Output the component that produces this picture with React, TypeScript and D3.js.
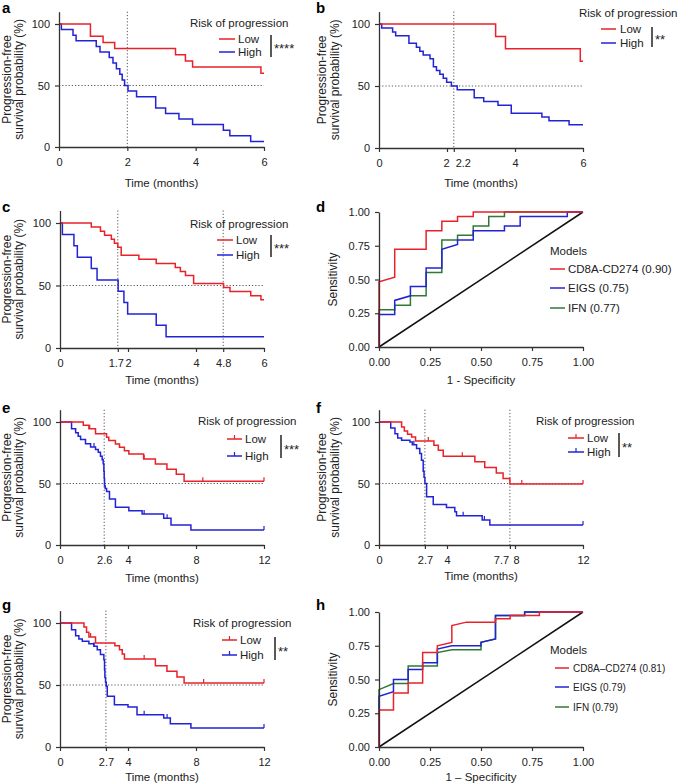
import * as d3 from "d3";
import React, { useEffect, useRef } from "react";

const RED = "#e8222a";
const BLUE = "#2323d6";
const GREEN = "#2e7a34";
const AXIS = "#333";
const GUIDE = "#555";
const FONT = "'Liberation Sans', Arial, Helvetica, sans-serif";

// ---- a: survival (%) after each event time (months)
const aLowTimes = [0.92, 1.29, 1.63, 3.41, 3.7, 3.91, 5.91];
const aLowSurv = [90, 85, 80, 75, 70, 65, 60];
const aHighTimes = [0.07, 0.41, 0.5, 1.09, 1.2, 1.47, 1.58, 1.68, 1.78, 1.85, 1.92, 2.02, 2.27, 2.83, 3.12, 3.51, 3.91, 4.81, 5.0, 5.61];
const aHighSurv = [95.5, 90.9, 86.4, 81.8, 77.3, 72.7, 68.2, 63.6, 59.1, 54.5, 50, 45.5, 40.9, 31.8, 27.3, 22.7, 18.2, 13.6, 9.1, 4.5];

// ---- b
const bLowTimes = [3.43, 3.72, 5.92];
const bLowSurv = [90, 80, 70];
const bHighTimes = [0.08, 0.4, 0.49, 0.88, 1.1, 1.2, 1.3, 1.5, 1.6, 1.69, 1.79, 1.89, 1.99, 2.13, 2.3, 2.8, 3.08, 3.5, 3.89, 4.79, 5.0, 5.59];
const bHighSurv = [96.8, 93.5, 90.6, 84.4, 81.3, 78.1, 75, 71.9, 65.6, 62.5, 59.4, 56.3, 53.1, 50, 46.9, 40.6, 37.5, 34.4, 28.1, 25, 21.9, 18.8];

// ---- c
const cLowTimes = [0.92, 1.19, 1.31, 1.51, 1.6, 1.7, 1.8, 2.32, 2.83, 3.39, 3.54, 3.69, 3.93, 4.81, 5.0, 5.61, 5.91];
const cLowSurv = [96.8, 93.5, 90.3, 87.1, 83.9, 80.6, 74.2, 71, 67.7, 64.5, 61.3, 58.1, 51.6, 48.4, 45.2, 41.9, 38.7];
const cHighTimes = [0.07, 0.41, 0.51, 0.92, 1.09, 1.71, 1.88, 1.99, 2.83, 3.12];
const cHighSurv = [90.9, 81.8, 72.7, 63.6, 54.5, 45.5, 36.4, 27.3, 18.2, 9.1];

// ---- e
const eLowTimes = [1.37, 1.7, 2.09, 2.74, 2.87, 3.26, 3.5, 3.79, 4.05, 4.92, 5.61, 6.29, 6.84, 7.3];
const eLowSurv = [97.3, 94.5, 90.4, 87.7, 84.9, 82.2, 79.5, 76.7, 74, 69.9, 65.8, 61.6, 57.5, 51.8];
const eLowCensor = [1.75, 4.95, 8.4, 12];
const eHighTimes = [0.68, 0.92, 1.07, 1.21, 1.5, 1.8, 2.09, 2.25, 2.38, 2.48, 2.54, 2.58, 2.6, 2.62, 2.66, 2.74, 2.91, 3.26, 4.05, 4.83, 6.1, 6.53, 7.7];
const eHighSurv = [94.6, 91.2, 88.4, 85.7, 82.3, 79.6, 77.6, 75.5, 72.1, 69.4, 66, 60, 54, 48, 46, 43.5, 37.5, 30.6, 27.9, 25.2, 21.8, 16.3, 12.2];
const eHighCensor = [2.0, 4.95, 6.3, 12];

// ---- f
const fLowTimes = [1.33, 1.49, 1.68, 1.92, 2.15, 3.23, 3.49, 3.78, 5.64, 6.22, 6.9, 7.3, 7.7];
const fLowSurv = [95.9, 92.7, 90, 87.8, 84.6, 81.1, 77, 72.2, 67.6, 63, 58.6, 54.1, 49.5];
const fLowCensor = [2.9, 4.9, 8.4, 12];
const fHighTimes = [0.69, 0.94, 1.1, 1.33, 1.82, 1.96, 2.21, 2.4, 2.5, 2.6, 2.65, 2.7, 2.8, 3.19, 3.97, 4.46, 4.56, 6.07, 6.52];
const fHighSurv = [95.1, 90.5, 87, 85.1, 83.8, 81.6, 78.4, 74.3, 68.9, 60, 55, 50, 39.2, 33, 30.5, 27, 23.8, 20.3, 16.2];
const fHighCensor = [2.05, 4.95, 6.2, 12];

// ---- g
const gLowTimes = [1.41, 1.56, 1.7, 2.09, 3.23, 3.5, 3.66, 3.79, 5.61, 6.29, 6.88, 7.3];
const gLowSurv = [96.8, 92.5, 88.7, 83.9, 81.7, 78.5, 75, 71, 65.6, 61, 56.5, 51.6];
const gLowCensor = [1.8, 4.95, 8.45, 12];
const gHighTimes = [0.68, 0.92, 1.11, 1.31, 1.7, 1.99, 2.19, 2.38, 2.58, 2.62, 2.64, 2.68, 2.72, 2.78, 3.2, 4.0, 4.53, 6.1, 6.49, 7.7];
const gHighSurv = [94.6, 89.8, 87.1, 85.2, 83.3, 81.2, 78.5, 74.5, 70.4, 62, 56, 52, 48.9, 40.9, 34.1, 32.3, 26.1, 23.4, 18.8, 15.3];
const gHighCensor = [2.0, 4.95, 6.3, 12];

// ---- d: ROC (false positive rate, true positive rate)
const dRedFpr = [0, 0, 0.077, 0.077, 0.231, 0.231, 0.308, 0.308, 0.385, 0.385, 0.462, 0.462, 1];
const dRedTpr = [0, 0.483, 0.517, 0.724, 0.724, 0.862, 0.862, 0.931, 0.931, 0.966, 0.966, 1, 1];
const dBlueFpr = [0, 0, 0.077, 0.077, 0.154, 0.154, 0.231, 0.231, 0.308, 0.308, 0.385, 0.385, 0.462, 0.462, 0.615, 0.615, 0.692, 0.692, 0.923, 0.923, 1];
const dBlueTpr = [0, 0.241, 0.241, 0.345, 0.379, 0.448, 0.448, 0.586, 0.586, 0.724, 0.759, 0.793, 0.793, 0.862, 0.862, 0.897, 0.897, 0.966, 0.966, 1, 1];
const dGreenFpr = [0, 0, 0.077, 0.077, 0.154, 0.154, 0.231, 0.231, 0.308, 0.308, 0.385, 0.385, 0.462, 0.462, 0.538, 0.538, 0.615, 0.615, 1];
const dGreenTpr = [0, 0.276, 0.276, 0.31, 0.31, 0.379, 0.379, 0.552, 0.552, 0.793, 0.793, 0.828, 0.828, 0.897, 0.897, 0.966, 0.966, 1, 1];
const dModels = ["CD8A-CD274 (0.90)", "EIGS (0.75)", "IFN (0.77)"];

// ---- h
const hRedFpr = [0, 0, 0.071, 0.071, 0.143, 0.143, 0.214, 0.214, 0.286, 0.286, 0.357, 0.357, 0.429, 0.571, 0.571, 0.643, 0.643, 0.786, 0.786, 1];
const hRedTpr = [0, 0.275, 0.275, 0.4, 0.4, 0.475, 0.475, 0.7, 0.7, 0.75, 0.775, 0.9, 0.925, 0.925, 0.95, 0.95, 0.975, 0.975, 1, 1];
const hBlueFpr = [0, 0, 0.071, 0.071, 0.143, 0.143, 0.214, 0.214, 0.286, 0.286, 0.357, 0.5, 0.5, 0.571, 0.571, 0.714, 0.714, 1];
const hBlueTpr = [0, 0.375, 0.41, 0.5, 0.5, 0.575, 0.575, 0.625, 0.625, 0.725, 0.75, 0.75, 0.775, 0.8, 0.975, 0.975, 1, 1];
const hGreenFpr = [0, 0, 0.071, 0.143, 0.143, 0.286, 0.286, 0.357, 0.5, 0.5, 0.571, 0.571, 0.714, 0.714, 1];
const hGreenTpr = [0, 0.425, 0.47, 0.47, 0.6, 0.6, 0.7, 0.72, 0.72, 0.775, 0.8, 0.975, 0.975, 1, 1];
const hModels = ["CD8A\u2013CD274 (0.81)", "EIGS (0.79)", "IFN (0.79)"];

const riskLabels = ["Low", "High"];

type KMSeries = { times: number[]; surv: number[]; censor: number[] };

const kmPanels = [
  {
    letter: "a", lx: 2, ly: 13, x0: 59, x1: 264, y100: 24, y0: 147, tmax: 6,
    xTicks: [0, 2, 4, 6], shift: {}, medians: [2], stars: "****", xlabY: 187, ylabX: [11, 23],
    low: { times: aLowTimes, surv: aLowSurv, censor: [] }, high: { times: aHighTimes, surv: aHighSurv, censor: [] },
    leg: { tx: 190, ty: 27, l0: 219, l1: 235, lowY: 39, highY: 52, textX: 238, barX: 271, b0: 35, b1: 57 },
  },
  {
    letter: "b", lx: 316, ly: 13, x0: 379, x1: 583, y100: 24, y0: 148, tmax: 6,
    xTicks: [0, 2, 2.2, 4, 6], shift: { 2: -1, 2.2: 9 }, medians: [2.2], stars: "**", xlabY: 187, ylabX: [326, 339],
    low: { times: bLowTimes, surv: bLowSurv, censor: [] }, high: { times: bHighTimes, surv: bHighSurv, censor: [] },
    leg: { tx: 579, ty: 17, l0: 601, l1: 616, lowY: 29, highY: 43, textX: 620, barX: 652, b0: 27, b1: 47 },
  },
  {
    letter: "c", lx: 2, ly: 212, x0: 60, x1: 264, y100: 223, y0: 348, tmax: 6,
    xTicks: [0, 1.7, 2, 4, 4.8, 6], shift: { 1.7: -2 }, medians: [1.7, 4.8], stars: "***", xlabY: 384, ylabX: [11, 23],
    low: { times: cLowTimes, surv: cLowSurv, censor: [] }, high: { times: cHighTimes, surv: cHighSurv, censor: [] },
    leg: { tx: 190, ty: 228, l0: 217, l1: 233, lowY: 240, highY: 255, textX: 236, barX: 271, b0: 235, b1: 257 },
  },
  {
    letter: "e", lx: 2, ly: 413, x0: 60, x1: 264, y100: 422, y0: 545, tmax: 12,
    xTicks: [0, 2.6, 4, 8, 12], shift: {}, medians: [2.6], stars: "***", xlabY: 582, ylabX: [11, 23],
    low: { times: eLowTimes, surv: eLowSurv, censor: eLowCensor }, high: { times: eHighTimes, surv: eHighSurv, censor: eHighCensor },
    leg: { tx: 198, ty: 425, l0: 227, l1: 242, lowY: 439, highY: 456, textX: 245, barX: 281, b0: 435, b1: 458 },
  },
  {
    letter: "f", lx: 316, ly: 413, x0: 379, x1: 583, y100: 422, y0: 545, tmax: 12,
    xTicks: [0, 2.7, 4, 7.7, 8, 12], shift: { 7.7: -9, 8: 1 }, medians: [2.7, 7.7], stars: "**", xlabY: 580, ylabX: [326, 339],
    low: { times: fLowTimes, surv: fLowSurv, censor: fLowCensor }, high: { times: fHighTimes, surv: fHighSurv, censor: fHighCensor },
    leg: { tx: 536, ty: 425, l0: 568, l1: 584, lowY: 438, highY: 452, textX: 587, barX: 619, b0: 433, b1: 457 },
  },
  {
    letter: "g", lx: 2, ly: 610, x0: 60, x1: 264, y100: 623, y0: 747, tmax: 12,
    xTicks: [0, 2.7, 4, 8, 12], shift: {}, medians: [2.7], stars: "**", xlabY: 781, ylabX: [11, 23],
    low: { times: gLowTimes, surv: gLowSurv, censor: gLowCensor }, high: { times: gHighTimes, surv: gHighSurv, censor: gHighCensor },
    leg: { tx: 193, ty: 627, l0: 222, l1: 237, lowY: 640, highY: 655, textX: 240, barX: 275, b0: 637, b1: 660 },
  },
];

const rocPanels = [
  {
    letter: "d", lx: 316, ly: 212, x0: 379, x1: 583, y1: 212, y0: 347, xlabel: "1 - Specificity", xlabY: 384,
    series: [
      { fpr: dGreenFpr, tpr: dGreenTpr, color: GREEN },
      { fpr: dBlueFpr, tpr: dBlueTpr, color: BLUE },
      { fpr: dRedFpr, tpr: dRedTpr, color: RED },
    ],
    models: dModels, leg: { tx: 550, ty: 255, l0: 550, l1: 565, rows: [269, 288, 308], textX: 568, size: 11.5 },
  },
  {
    letter: "h", lx: 316, ly: 610, x0: 379, x1: 583, y1: 612, y0: 747, xlabel: "1 \u2013 Specificity", xlabY: 781,
    series: [
      { fpr: hGreenFpr, tpr: hGreenTpr, color: GREEN },
      { fpr: hBlueFpr, tpr: hBlueTpr, color: BLUE },
      { fpr: hRedFpr, tpr: hRedTpr, color: RED },
    ],
    models: hModels, leg: { tx: 550, ty: 654, l0: 555, l1: 569, rows: [668, 687, 707], textX: 573, size: 10 },
  },
];

const survAt = (s: KMSeries, t: number) => {
  const i = d3.bisectRight(s.times, t);
  return i === 0 ? 100 : s.surv[i - 1];
};

const styleAxis = (ax: any) => {
  ax.attr("font-family", FONT).attr("font-size", 11);
  ax.select(".domain").attr("stroke", AXIS).attr("stroke-width", 1.3);
  ax.selectAll(".tick line").attr("stroke", AXIS).attr("stroke-width", 1.2);
  ax.selectAll(".tick text").attr("fill", "#222");
};

const text = (g: any, x: number, y: number, s: string, size = 11.5) =>
  g.append("text").attr("x", x).attr("y", y).attr("font-size", size).attr("font-family", FONT).attr("fill", "#222").text(s);

function drawKM(svg: any, p: any) {
  const g = svg.append("g");
  const x = d3.scaleLinear().domain([0, p.tmax]).range([p.x0, p.x1]);
  const y = d3.scaleLinear().domain([0, 100]).range([p.y0, p.y100]);
  const yTop = y(110);

  const dotted = (sel: any) => sel.attr("stroke", GUIDE).attr("stroke-width", 1).attr("stroke-dasharray", "1.2,2");
  g.append("line").attr("x1", x(0)).attr("x2", x(p.tmax)).attr("y1", y(50)).attr("y2", y(50)).call(dotted);
  p.medians.forEach((m: number) =>
    g.append("line").attr("x1", x(m)).attr("x2", x(m)).attr("y1", yTop).attr("y2", y(0)).call(dotted)
  );

  const line = d3
    .line<[number, number]>()
    .x((d) => x(d[0]))
    .y((d) => y(d[1]))
    .curve(d3.curveStepAfter);

  const hasCensor = p.low.censor.length > 0;
  [
    [p.high, BLUE],
    [p.low, RED],
  ].forEach(([s, col]: any) => {
    const pts: [number, number][] = [[0, 100], ...s.times.map((t: number, i: number) => [t, s.surv[i]] as [number, number])];
    pts.push([p.tmax, s.surv[s.surv.length - 1]]);
    g.append("path").attr("d", line(pts)).attr("fill", "none").attr("stroke", col).attr("stroke-width", 1.5);
    s.censor.forEach((c: number) => {
      const v = survAt(s, c);
      g.append("line").attr("x1", x(c)).attr("x2", x(c)).attr("y1", y(v)).attr("y2", y(v) - 4).attr("stroke", col).attr("stroke-width", 1.2);
    });
  });

  const ya = d3.scaleLinear().domain([0, 110]).range([p.y0, yTop]);
  const yAx = g
    .append("g")
    .attr("transform", `translate(${p.x0},0)`)
    .call(d3.axisLeft(ya).tickValues([0, 50, 100]).tickSize(4).tickSizeOuter(0).tickPadding(5));
  styleAxis(yAx);
  const xAx = g
    .append("g")
    .attr("transform", `translate(0,${p.y0})`)
    .call(d3.axisBottom(x).tickValues(p.xTicks).tickFormat((d: any) => String(d)).tickSize(4).tickSizeOuter(0).tickPadding(7));
  styleAxis(xAx);
  // nudge crowded tick labels apart, as in the original
  xAx.selectAll(".tick text").attr("dx", (d: any) => (p.shift[d] ?? 0));

  text(g, (p.x0 + p.x1) / 2, p.xlabY, "Time (months)").attr("text-anchor", "middle");
  const cy = (yTop + p.y0) / 2;
  ["Progression-free", "survival probability (%)"].forEach((s, i) =>
    text(g, 0, 0, s, 12).attr("text-anchor", "middle").attr("transform", `translate(${p.ylabX[i]},${cy}) rotate(-90)`)
  );
  text(g, p.lx, p.ly, p.letter, 15).attr("font-weight", "bold").attr("fill", "#000");

  // legend
  const L = p.leg;
  text(g, L.tx, L.ty, "Risk of progression");
  [
    [L.lowY, RED, riskLabels[0]],
    [L.highY, BLUE, riskLabels[1]],
  ].forEach(([yy, col, lab]: any) => {
    g.append("line").attr("x1", L.l0).attr("x2", L.l1).attr("y1", yy).attr("y2", yy).attr("stroke", col).attr("stroke-width", 1.5);
    if (hasCensor) {
      const mx = (L.l0 + L.l1) / 2;
      g.append("line").attr("x1", mx).attr("x2", mx).attr("y1", yy).attr("y2", yy - 4).attr("stroke", col).attr("stroke-width", 1.2);
    }
    text(g, L.textX, yy + 4, lab);
  });
  g.append("line").attr("x1", L.barX).attr("x2", L.barX).attr("y1", L.b0).attr("y2", L.b1).attr("stroke", "#222").attr("stroke-width", 1.5);
  text(g, L.barX + 3, (L.b0 + L.b1) / 2 + 7, p.stars, 13);
}

function drawROC(svg: any, p: any) {
  const g = svg.append("g");
  const x = d3.scaleLinear().domain([0, 1]).range([p.x0, p.x1]);
  const y = d3.scaleLinear().domain([0, 1]).range([p.y0, p.y1]);
  const line = d3
    .line<[number, number]>()
    .x((d) => x(d[0]))
    .y((d) => y(d[1]));

  g.append("path").attr("d", line([[0, 0], [1, 1]])).attr("stroke", "#111").attr("stroke-width", 1.5).attr("fill", "none");
  p.series.forEach((s: any) => {
    const pts = s.fpr.map((f: number, i: number) => [f, s.tpr[i]] as [number, number]);
    g.append("path").attr("d", line(pts)).attr("fill", "none").attr("stroke", s.color).attr("stroke-width", 1.5);
  });

  const ticks = [0, 0.25, 0.5, 0.75, 1];
  const yAx = g
    .append("g")
    .attr("transform", `translate(${p.x0},0)`)
    .call(d3.axisLeft(y).tickValues(ticks).tickFormat(d3.format(".2f")).tickSize(4).tickSizeOuter(0).tickPadding(5));
  styleAxis(yAx);
  const xAx = g
    .append("g")
    .attr("transform", `translate(0,${p.y0})`)
    .call(d3.axisBottom(x).tickValues(ticks).tickFormat(d3.format(".2f")).tickSize(4).tickSizeOuter(0).tickPadding(7));
  styleAxis(xAx);

  text(g, (p.x0 + p.x1) / 2, p.xlabY, p.xlabel).attr("text-anchor", "middle");
  text(g, 0, 0, "Sensitivity", 12).attr("text-anchor", "middle").attr("transform", `translate(337,${(p.y0 + p.y1) / 2}) rotate(-90)`);
  text(g, p.lx, p.ly, p.letter, 15).attr("font-weight", "bold").attr("fill", "#000");

  const L = p.leg;
  text(g, L.tx, L.ty, "Models");
  const cols = [RED, BLUE, GREEN];
  p.models.forEach((m: string, i: number) => {
    const yy = L.rows[i];
    g.append("line").attr("x1", L.l0).attr("x2", L.l1).attr("y1", yy).attr("y2", yy).attr("stroke", cols[i]).attr("stroke-width", 1.5);
    text(g, L.textX, yy + 4, m, L.size);
  });
}

export default function App() {
  const ref = useRef<SVGSVGElement | null>(null);

  useEffect(() => {
    const svg = d3.select(ref.current);
    svg.selectAll("*").remove();
    svg.append("rect").attr("width", 678).attr("height", 784).attr("fill", "#fff");
    kmPanels.forEach((p) => drawKM(svg, p));
    rocPanels.forEach((p) => drawROC(svg, p));
  }, []);

  return (
    <svg
      ref={ref}
      width={678}
      height={784}
      viewBox="0 0 678 784"
      style={{ position: "absolute", left: 0, top: 0, display: "block" }}
    />
  );
}
